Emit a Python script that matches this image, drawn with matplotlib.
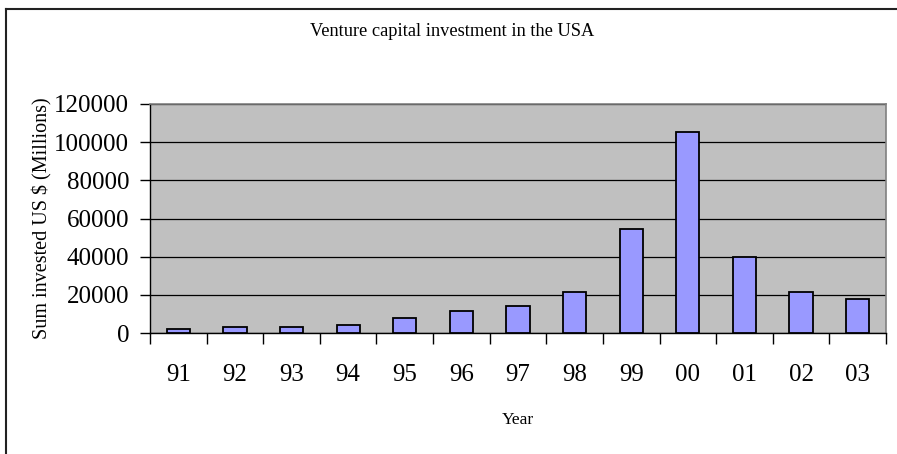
import matplotlib
matplotlib.use("Agg")
import matplotlib.pyplot as plt
from matplotlib.lines import Line2D
import numpy as np

years = ["91", "92", "93", "94", "95", "96", "97", "98", "99", "00", "01", "02", "03"]
invested = [2300, 3400, 3400, 4200, 7900, 11500, 14200, 21300, 54400, 105500, 40000, 21300, 17800]
yticks = [0, 20000, 40000, 60000, 80000, 100000, 120000]

plt.rcParams['font.family'] = ['Liberation Serif', 'DejaVu Serif']

fig = plt.figure(figsize=(8.97, 4.54), dpi=100)
W, H = 897, 454
ax = fig.add_axes([150 / W, (H - 333) / H, 736 / W, 229 / H])
ax.set_facecolor('#C0C0C0')

x = np.arange(len(years))
ax.bar(x, invested, width=0.41, color='#9999FF', edgecolor='black', linewidth=1.3, zorder=3)

ax.set_xlim(-0.5, len(years) - 0.5)
ax.set_ylim(0, 120000)
ax.set_yticks(yticks)
ax.set_yticklabels([str(v) for v in yticks], fontsize=18)
ax.yaxis.grid(True, color='black', linewidth=0.9, zorder=1)
ax.set_axisbelow(True)

ax.set_xticks(x)
ax.set_xticklabels(years, fontsize=18)
ax.set_xticks(np.arange(-0.5, len(years)), minor=True)
ax.tick_params(axis='x', which='major', length=0, pad=22)
ax.tick_params(axis='x', which='minor', length=8, width=1, color='black', direction='out')
ax.tick_params(axis='y', length=7, width=1, color='black', direction='out', pad=8)

for s in ['top', 'right']:
    ax.spines[s].set_color('#808080')
    ax.spines[s].set_linewidth(1.2)
for s in ['left', 'bottom']:
    ax.spines[s].set_color('black')
    ax.spines[s].set_linewidth(1.0)

ax.set_ylabel("Sum invested US $ (Millions)", fontsize=14.5, labelpad=1)
ax.set_xlabel("Year", fontsize=12.5, labelpad=19)
fig.text(452 / W, 1 - 32 / H, "Venture capital investment in the USA", fontsize=13.2,
         ha='center', va='center')

# outer chart border (only top and left visible)
fig.add_artist(Line2D([5.5 / W, 5.5 / W], [0, 1 - 8.5 / H], transform=fig.transFigure,
                      color='#222222', linewidth=1.5))
fig.add_artist(Line2D([5.5 / W, 1], [1 - 8.5 / H, 1 - 8.5 / H], transform=fig.transFigure,
                      color='#222222', linewidth=1.5))

fig.savefig("out.png", dpi=100)
